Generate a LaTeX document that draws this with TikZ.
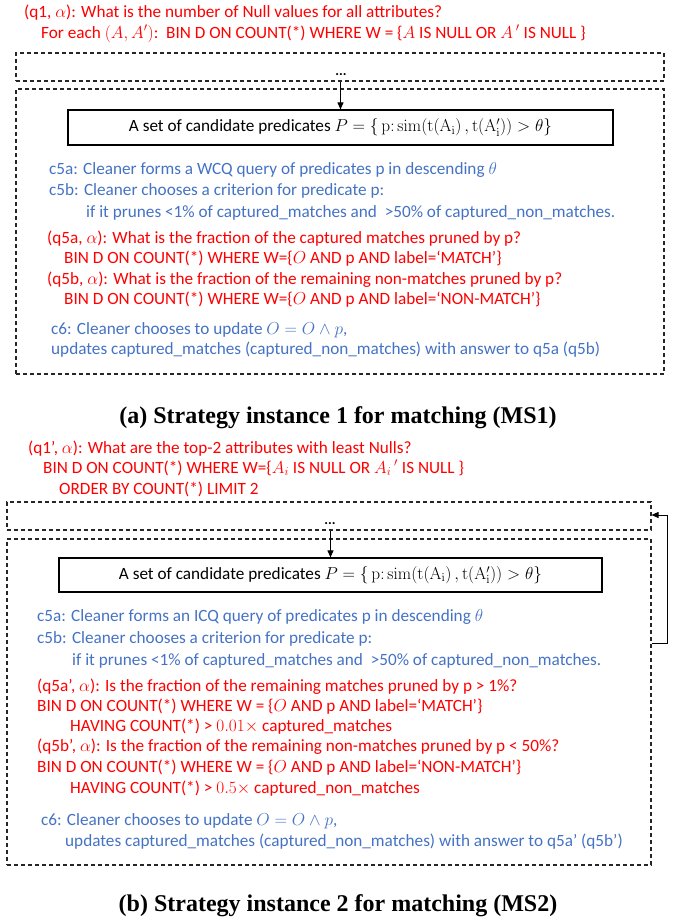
\documentclass[tikz,border=0pt]{standalone}
\usepackage[no-math]{fontspec}
\setmainfont{Carlito}
\newfontfamily\capfont{Liberation Serif}
\usetikzlibrary{arrows.meta}
\definecolor{qred}{RGB}{255,0,0}
\definecolor{cblue}{RGB}{68,114,196}
\tikzset{
  txt/.style={anchor=base west, inner sep=0pt, font=\fontsize{17.2}{20}\selectfont},
  qtxt/.style={txt, text=qred},
  ctxt/.style={txt, text=cblue},
  captxt/.style={anchor=base, inner sep=0pt, font=\capfont\bfseries\fontsize{24}{28}\selectfont},
  dbox/.style={draw=black!85, dash pattern=on 4pt off 3pt, line width=1.1pt, inner sep=0pt},
  ibox/.style={draw, line width=1.2pt, inner sep=0pt, font=\fontsize{17.2}{20}\selectfont},
  dots/.style={anchor=base, inner sep=0pt, font=\bfseries\fontsize{14}{16}\selectfont},
  arr/.style={-{Triangle[length=7pt,width=6pt]}, line width=1pt},
}
\begin{document}
\begin{tikzpicture}[x=1pt,y=-1pt]
\useasboundingbox (0,0) rectangle (684,918);

% ---------------- (a) ----------------
\node[qtxt] (t1) at (24,17) {(q1, $\alpha$): What is the number of Null values for all attributes?};
\node[qtxt] (t2) at (41,38) {For each $(A,A')$:\ \ BIN D ON COUNT(*) WHERE W = \{$A$ IS NULL OR $A\,'$ IS NULL \}};

\node[dbox, minimum width=648pt, minimum height=28pt] (a1) at (340,67) {};
\node[dots] (ad) at (341,75) {...};
\node[dbox, minimum width=648pt, minimum height=285pt] (a2) at (340,231.5) {};
\node[ibox, minimum width=545pt, minimum height=35pt] (ia) at (340.5,127.5)
  {A set of candidate predicates $P=\{\,\mathrm{p}\colon\mathrm{sim}\big(\mathrm{t(A_i)}\,,\mathrm{t(A'_i)}\big)>\theta\}$};
\draw[arr] (a1.south -| ia.north) -- (ia.north);

\node[ctxt] (t3) at (49,174) {c5a: Cleaner forms a WCQ query of predicates p in descending $\theta$};
\node[ctxt] (t4) at (49,195) {c5b: Cleaner chooses a criterion for predicate p:};
\node[ctxt] (t5) at (86,217) {if it prunes <1\% of captured\_matches and \ >50\% of captured\_non\_matches.};
\node[qtxt] (t6) at (47,243) {(q5a, $\alpha$): What is the fraction of the captured matches pruned by p?};
\node[qtxt] (t7) at (64,263) {BIN D ON COUNT(*) WHERE W=\{$O$ AND p AND label=‘MATCH’\}};
\node[qtxt] (t8) at (47,284) {(q5b, $\alpha$): What is the fraction of the remaining non-matches pruned by p?};
\node[qtxt] (t9) at (64,304) {BIN D ON COUNT(*) WHERE W=\{$O$ AND p AND label=‘NON-MATCH’\}};
\node[ctxt] (t10) at (51,334) {c6: Cleaner chooses to update $O=O\wedge p$,};
\node[ctxt] (t11) at (51,354) {updates captured\_matches (captured\_non\_matches) with answer to q5a (q5b)};

\node[captxt] (capa) at (338,423) {(a) Strategy instance 1 for matching (MS1)};

% ---------------- (b) ----------------
\node[qtxt] (u1) at (28,453) {(q1’, $\alpha$): What are the top-2 attributes with least Nulls?};
\node[qtxt] (u2) at (43,473) {BIN D ON COUNT(*) WHERE W=\{$A_i$ IS NULL OR $A_i\,'$ IS NULL \}};
\node[qtxt] (u3) at (59,494) {ORDER BY COUNT(*) LIMIT 2};

\node[dbox, minimum width=644pt, minimum height=28pt] (b1) at (329,516) {};
\node[dots] (bd) at (330,524) {...};
\node[dbox, minimum width=644pt, minimum height=326pt] (b2) at (329,702) {};
\node[ibox, minimum width=543pt, minimum height=34pt] (ib) at (330.5,575)
  {A set of candidate predicates $P=\{\,\mathrm{p}\colon\mathrm{sim}\big(\mathrm{t(A_i)}\,,\mathrm{t(A'_i)}\big)>\theta\}$};
\draw[arr] (b1.south -| ib.north) -- (ib.north);

\coordinate (fa) at (667,643);
\coordinate (fb) at (667,515);
\draw[arr] (b2.east |- fa) -- (fa) -- (fb) -- (b1.east |- fb);

\node[ctxt] (u4) at (37,621) {c5a: Cleaner forms an ICQ query of predicates p in descending $\theta$};
\node[ctxt] (u5) at (37,643) {c5b: Cleaner chooses a criterion for predicate p:};
\node[ctxt] (u6) at (72,665) {if it prunes <1\% of captured\_matches and \ >50\% of captured\_non\_matches.};
\node[qtxt] (u7) at (37,691) {(q5a’, $\alpha$): Is the fraction of the remaining matches pruned by p > 1\%?};
\node[qtxt] (u8) at (37,711) {BIN D ON COUNT(*) WHERE W = \{$O$ AND p AND label=‘MATCH’\}};
\node[qtxt] (u9) at (70,731) {HAVING COUNT(*) > $0.01\times$ captured\_matches};
\node[qtxt] (u10) at (37,751) {(q5b’, $\alpha$): Is the fraction of the remaining non-matches pruned by p < 50\%?};
\node[qtxt] (u11) at (37,772) {BIN D ON COUNT(*) WHERE W = \{$O$ AND p AND label=‘NON-MATCH’\}};
\node[qtxt] (u12) at (70,793) {HAVING COUNT(*) > $0.5\times$ captured\_non\_matches};
\node[ctxt] (u13) at (41,825) {c6: Cleaner chooses to update $O=O\wedge p$,};
\node[ctxt] (u14) at (65,846) {updates captured\_matches (captured\_non\_matches) with answer to q5a’ (q5b’)};

\node[captxt] (capb) at (338,911) {(b) Strategy instance 2 for matching (MS2)};
\end{tikzpicture}
\end{document}
